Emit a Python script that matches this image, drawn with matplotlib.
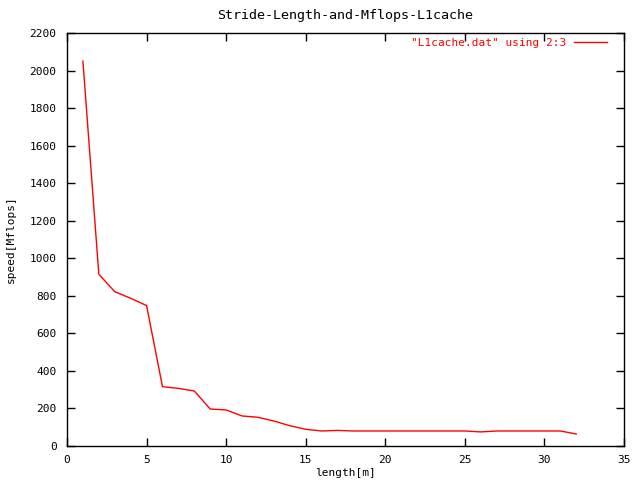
import matplotlib
matplotlib.use('Agg')
import matplotlib.pyplot as plt

# Values (gnuplot output)
length = [1, 2, 3, 4, 5, 6, 7, 8, 9, 10, 11, 12, 13, 14, 15, 16,
          17, 18, 19, 20, 21, 22, 23, 24, 25, 26, 27, 28, 29, 30, 31, 32]
speed = [2050, 915, 822, 787, 748, 316, 307, 293, 197, 192, 160, 153, 133, 108, 89, 80,
         83, 80, 80, 80, 80, 80, 80, 80, 80, 75, 80, 80, 80, 80, 80, 64]

plt.rcParams['font.family'] = 'DejaVu Sans Mono'
plt.rcParams['font.size'] = 8

fig = plt.figure(figsize=(6.4, 4.8), dpi=100)
ax = fig.add_axes([67 / 640, 34 / 480, 557 / 640, 413 / 480])

ax.plot(length, speed, color='red', lw=1, label='"L1cache.dat" using 2:3')

ax.set_xlim(0, 35)
ax.set_ylim(0, 2200)
ax.set_xticks(range(0, 36, 5))
ax.set_yticks(range(0, 2201, 200))
ax.tick_params(direction='in', top=True, right=True, length=6, width=1)
ax.tick_params(axis='y', pad=7.5)
ax.tick_params(axis='x', pad=6.5)
for s in ax.spines.values():
    s.set_linewidth(1)

ax.set_title('Stride-Length-and-Mflops-L1cache', pad=10)
ax.set_xlabel('length[m]', labelpad=2.5)
ax.set_ylabel('speed[Mflops]', labelpad=9.5)

# legend placed like gnuplot's key: text then sample line, top right
ax.legend(loc='upper right', bbox_to_anchor=(0.9695, 0.988), frameon=False,
          markerfirst=False, labelcolor='red', handlelength=3.0,
          handletextpad=0.7, borderpad=0, borderaxespad=0)

fig.savefig('out.png', dpi=100)
